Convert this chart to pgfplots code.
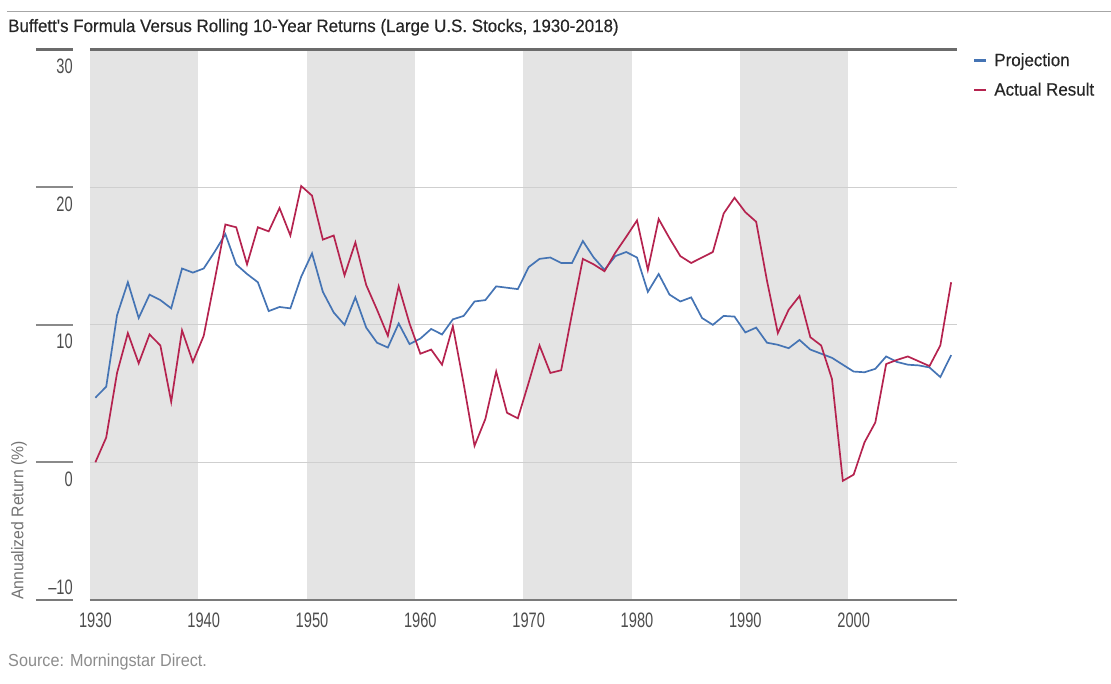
\documentclass[border=0pt]{standalone}
\usepackage{pgfplots}
\pgfplotsset{compat=1.18}
\usepackage{pgfplotstable}
\usepackage{fontspec}
\setmainfont{Liberation Sans}[FakeStretch=0.93]
\newfontfamily\numfont{Liberation Sans}[FakeStretch=0.70]
\newfontfamily\headfont{Liberation Sans}[FakeStretch=0.945, FakeBold=0.35]

\definecolor{projblue}{HTML}{4574B4}
\definecolor{actred}{HTML}{B5234F}
\definecolor{band}{HTML}{E4E4E4}
\definecolor{gridc}{HTML}{CFCFCF}
\definecolor{axdark}{HTML}{6B6B6B}
\definecolor{axbot}{HTML}{7A7A7A}
\definecolor{tickc}{HTML}{8A8A8A}
\definecolor{lbl}{HTML}{4D4D4D}

% rolling 10-year returns, start year of each window
\pgfplotstableread{
year proj actual
1930 4.7 0.0
1931 5.5 1.8
1932 10.7 6.5
1933 13.1 9.4
1934 10.5 7.2
1935 12.2 9.3
1936 11.8 8.5
1937 11.2 4.4
1938 14.1 9.6
1939 13.8 7.3
1940 14.1 9.2
1941 15.3 13.2
1942 16.6 17.3
1943 14.4 17.1
1944 13.7 14.4
1945 13.1 17.1
1946 11.0 16.8
1947 11.3 18.5
1948 11.2 16.5
1949 13.5 20.1
1950 15.2 19.4
1951 12.4 16.2
1952 10.9 16.5
1953 10.0 13.6
1954 12.0 16.0
1955 9.8 12.9
1956 8.7 11.1
1957 8.35 9.2
1958 10.1 12.8
1959 8.6 10.1
1960 9.0 7.9
1961 9.7 8.2
1962 9.3 7.1
1963 10.4 9.9
1964 10.65 5.7
1965 11.7 1.2
1966 11.8 3.15
1967 12.8 6.6
1968 12.7 3.6
1969 12.6 3.2
1970 14.2 5.8
1971 14.8 8.5
1972 14.9 6.5
1973 14.5 6.7
1974 14.5 10.8
1975 16.1 14.8
1976 14.9 14.4
1977 14.0 13.9
1978 15.0 15.25
1979 15.3 16.4
1980 14.9 17.6
1981 12.4 14.0
1982 13.7 17.7
1983 12.2 16.3
1984 11.7 15.0
1985 12.0 14.5
1986 10.5 14.9
1987 10.0 15.3
1988 10.65 18.1
1989 10.6 19.25
1990 9.45 18.2
1991 9.8 17.5
1992 8.7 13.2
1993 8.55 9.4
1994 8.3 11.1
1995 8.9 12.1
1996 8.2 9.1
1997 7.9 8.5
1998 7.6 6.05
1999 7.1 -1.35
2000 6.6 -0.9
2001 6.55 1.45
2002 6.8 2.9
2003 7.7 7.15
2004 7.3 7.45
2005 7.1 7.7
2006 7.05 7.35
2007 6.9 7.0
2008 6.2 8.5
2009 7.8 13.1
}\returns

\begin{document}
\begin{tikzpicture}[x=1bp,y=1bp]
\draw[gray!70, line width=1bp] (7,672) -- (1111,672);
\node[anchor=base west, inner sep=0pt, text=black!85, font=\headfont\fontsize{18}{18}\selectfont]
  at (8,652) {Buffett's Formula Versus Rolling 10-Year Returns (Large U.S. Stocks, 1930-2018)};

\begin{axis}[
  at={(90bp,84bp)}, anchor=south west,
  width=867bp, height=550bp, scale only axis,
  xmin=1929.5, xmax=2009.5, ymin=-10, ymax=30,
  axis line style={draw=none},
  major tick length=0pt,
  xtick={1930,1940,...,2000},
  xticklabels={1930,1940,1950,1960,1970,1980,1990,2000},
  ytick={0,10,20,30},
  yticklabels={0,10,20,30},
  extra y ticks={-10},
  extra y tick labels={\textendash10},
  extra y tick style={yticklabel style={anchor=south east, yshift=14bp}},
  yticklabel style={font=\numfont\fontsize{21}{21}\selectfont, text=lbl,
    anchor=north east, inner sep=0pt, xshift=-17bp, yshift=-9bp},
  xticklabel style={font=\numfont\fontsize{21}{21}\selectfont, text=lbl,
    anchor=north, inner sep=0pt, yshift=-13bp},
  set layers,
  ymajorgrids, grid style={gridc, line width=1.3bp},
  clip=false,
  legend style={draw=none, fill=none, at={(rel axis cs:1,1)}, anchor=north west,
    xshift=16bp, yshift=-1bp, inner sep=0pt, row sep=11bp, column sep=5bp,
    font=\headfont\fontsize{18}{18}\selectfont, text=black!85},
  legend cell align=left,
  legend image code/.code={\draw[#1, line width=2.6bp] (0bp,0bp) -- (12bp,0bp);},
]
\addplot[fill=band, draw=none, on layer=axis background, forget plot]
  coordinates {(1929.5,-10) (1929.5,30) (1939.5,30) (1939.5,-10)} -- cycle;
\addplot[fill=band, draw=none, on layer=axis background, forget plot]
  coordinates {(1949.5,-10) (1949.5,30) (1959.5,30) (1959.5,-10)} -- cycle;
\addplot[fill=band, draw=none, on layer=axis background, forget plot]
  coordinates {(1969.5,-10) (1969.5,30) (1979.5,30) (1979.5,-10)} -- cycle;
\addplot[fill=band, draw=none, on layer=axis background, forget plot]
  coordinates {(1989.5,-10) (1989.5,30) (1999.5,30) (1999.5,-10)} -- cycle;

\draw[axdark, line width=3bp] (rel axis cs:0,1) -- (rel axis cs:1,1);
\draw[axbot, line width=2bp] (rel axis cs:0,0) -- (rel axis cs:1,0);

\addplot[projblue, line width=1.7bp] table[x=year, y=proj] {\returns};
\addlegendentry{Projection}
\addplot[actred, line width=1.7bp] table[x=year, y=actual] {\returns};
\addlegendentry{Actual Result}
\end{axis}

% short tick rules left of the plot
\draw[axdark, line width=3bp] (36,634) -- (73,634);
\draw[tickc, line width=2bp] (36,496.5) -- (73,496.5);
\draw[tickc, line width=2bp] (36,359) -- (73,359);
\draw[tickc, line width=2bp] (36,221.5) -- (73,221.5);
\draw[axbot, line width=2bp] (36,84) -- (73,84);

\node[rotate=90, anchor=south west, inner sep=0pt, text=black!55,
  font=\fontsize{17}{17}\selectfont] at (27,84) {Annualized Return (\%)};
\node[anchor=base west, inner sep=0pt, text=black!45, font=\fontsize{17.5}{17.5}\selectfont]
  at (8,17) {Source: Morningstar Direct.};
\path (0,0) rectangle (1111,684);
\end{tikzpicture}
\end{document}
